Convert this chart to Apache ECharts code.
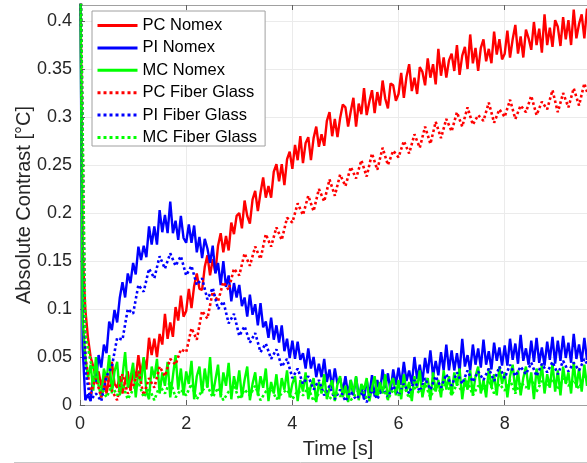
<!DOCTYPE html>
<html><head><meta charset="utf-8">
<script src="https://cdn.jsdelivr.net/npm/echarts@6/dist/echarts.min.js"></script>
<style>html,body{margin:0;padding:0;background:#fff}#c{width:587px;height:463px}</style>
</head><body><div id="c"></div>
<script>
const seriesNames = ['PC Nomex','PI Nomex','MC Nomex','PC Fiber Glass','PI Fiber Glass','MC Fiber Glass'];
const xTicks = [0,2,4,6,8];
const yTicks = [0,0.05,0.1,0.15,0.2,0.25,0.3,0.35,0.4];
const tFine = [
0,0.05,0.1,0.15,0.2,0.25,0.3,0.35,0.4,0.45,0.5,0.55,0.6,0.65,0.7,0.75,0.8,0.85,0.9,0.95,
1,1.05,1.1,1.15,1.2,1.25,1.3,1.35,1.4,1.45,1.5,1.55,1.6,1.65,1.7,1.75,1.8,1.85,1.9,1.95,
2,2.05,2.1,2.15,2.2,2.25,2.3,2.35,2.4,2.45,2.5,2.55,2.6,2.65,2.7,2.75,2.8,2.85,2.9,2.95,
3,3.05,3.1,3.15,3.2,3.25,3.3,3.35,3.4,3.45,3.5,3.55,3.6,3.65,3.7,3.75,3.8,3.85,3.9,3.95,
4,4.05,4.1,4.15,4.2,4.25,4.3,4.35,4.4,4.45,4.5,4.55,4.6,4.65,4.7,4.75,4.8,4.85,4.9,4.95,
5,5.05,5.1,5.15,5.2,5.25,5.3,5.35,5.4,5.45,5.5,5.55,5.6,5.65,5.7,5.75,5.8,5.85,5.9,5.95,
6,6.05,6.1,6.15,6.2,6.25,6.3,6.35,6.4,6.45,6.5,6.55,6.6,6.65,6.7,6.75,6.8,6.85,6.9,6.95,
7,7.05,7.1,7.15,7.2,7.25,7.3,7.35,7.4,7.45,7.5,7.55,7.6,7.65,7.7,7.75,7.8,7.85,7.9,7.95,
8,8.05,8.1,8.15,8.2,8.25,8.3,8.35,8.4,8.45,8.5,8.55,8.6,8.65,8.7,8.75,8.8,8.85,8.9,8.95,
9,9.05,9.1,9.15,9.2,9.25,9.3,9.35,9.4,9.45,9.5,9.55,9.6];
const tCoarse = [
0,0.1,0.2,0.3,0.4,0.5,0.6,0.7,0.8,0.9,
1,1.1,1.2,1.3,1.4,1.5,1.6,1.7,1.8,1.9,
2,2.1,2.2,2.3,2.4,2.5,2.6,2.7,2.8,2.9,
3,3.1,3.2,3.3,3.4,3.5,3.6,3.7,3.8,3.9,
4,4.1,4.2,4.3,4.4,4.5,4.6,4.7,4.8,4.9,
5,5.1,5.2,5.3,5.4,5.5,5.6,5.7,5.8,5.9,
6,6.1,6.2,6.3,6.4,6.5,6.6,6.7,6.8,6.9,
7,7.1,7.2,7.3,7.4,7.5,7.6,7.7,7.8,7.9,
8,8.1,8.2,8.3,8.4,8.5,8.6,8.7,8.8,8.9,
9,9.1,9.2,9.3,9.4,9.5,9.6];
const pcNomex = [
0.5,0.16,0.1,0.07,0.05,0.04,0.028,0.035,0.02,0.03,0.012,0.028,0.045,0.022,0.018,0.03,0.012,0.025,0.035,0.015,
0.038,0.028,0.052,0.031,0.049,0.037,0.07,0.052,0.069,0.05,0.074,0.063,0.095,0.069,0.086,0.071,0.102,0.088,0.114,0.092,
0.098,0.121,0.101,0.124,0.137,0.121,0.12,0.144,0.156,0.135,0.152,0.138,0.166,0.179,0.159,0.176,0.161,0.19,0.178,0.197,
0.2,0.184,0.213,0.197,0.189,0.214,0.223,0.202,0.221,0.237,0.216,0.228,0.216,0.243,0.251,0.233,0.251,0.229,0.256,0.264,
0.246,0.271,0.255,0.28,0.252,0.273,0.279,0.255,0.278,0.29,0.269,0.282,0.27,0.296,0.305,0.28,0.298,0.279,0.299,0.313,
0.31,0.29,0.306,0.32,0.29,0.314,0.303,0.33,0.302,0.316,0.328,0.304,0.326,0.312,0.338,0.319,0.309,0.335,0.333,0.317,
0.324,0.346,0.32,0.342,0.355,0.327,0.341,0.324,0.352,0.347,0.333,0.361,0.341,0.355,0.334,0.371,0.343,0.362,0.341,0.359,
0.366,0.348,0.375,0.344,0.364,0.373,0.35,0.386,0.356,0.372,0.348,0.372,0.381,0.358,0.371,0.356,0.389,0.365,0.381,0.36,
0.366,0.39,0.362,0.381,0.396,0.366,0.384,0.362,0.391,0.382,0.37,0.399,0.375,0.392,0.367,0.407,0.375,0.393,0.373,0.401,
0.394,0.374,0.404,0.381,0.401,0.375,0.412,0.382,0.397,0.407,0.382,0.413,0.388];
const piNomex = [
0.5,0.06,0.005,0.011,0.004,0.03,0.024,0.052,0.039,0.063,0.054,0.087,0.078,0.099,0.086,0.112,0.128,0.112,0.137,0.127,
0.148,0.136,0.165,0.151,0.166,0.154,0.186,0.167,0.186,0.167,0.203,0.18,0.198,0.179,0.212,0.179,0.192,0.172,0.197,0.174,
0.169,0.188,0.169,0.187,0.159,0.175,0.153,0.173,0.163,0.148,0.166,0.137,0.148,0.125,0.15,0.123,0.135,0.108,0.127,0.112,
0.125,0.103,0.112,0.092,0.115,0.094,0.105,0.083,0.106,0.081,0.087,0.07,0.091,0.068,0.083,0.065,0.083,0.056,0.069,0.049,
0.067,0.048,0.066,0.047,0.054,0.038,0.059,0.038,0.05,0.029,0.043,0.029,0.048,0.024,0.037,0.018,0.038,0.022,0.028,0.014,
0.03,0.011,0.026,0.01,0.029,0.01,0.019,0.006,0.026,0.01,0.031,0.009,0.026,0.013,0.037,0.018,0.033,0.014,0.037,0.021,
0.039,0.021,0.045,0.025,0.036,0.022,0.05,0.027,0.042,0.024,0.049,0.033,0.057,0.03,0.046,0.031,0.055,0.036,0.063,0.036,
0.057,0.036,0.054,0.035,0.069,0.04,0.052,0.036,0.063,0.042,0.059,0.039,0.068,0.042,0.056,0.037,0.065,0.046,0.06,0.041,
0.062,0.041,0.069,0.047,0.064,0.043,0.073,0.046,0.059,0.042,0.067,0.045,0.07,0.044,0.06,0.041,0.066,0.047,0.071,0.043,
0.067,0.046,0.072,0.049,0.065,0.044,0.074,0.048,0.063,0.045,0.07,0.047,0.066];
const mcNomex = [
0.5,0.09,0.05,0.028,0.042,0.015,0.05,0.02,0.008,0.038,0.026,0.052,0.012,0.035,0.045,0.01,0.03,0.055,0.018,0.028,
0.044,0.008,0.036,0.022,0.05,0.014,0.006,0.04,0.028,0.048,0.012,0.034,0.02,0.045,0.008,0.03,0.052,0.016,0.038,0.01,
0.035,0.022,0.046,0.006,0.03,0.04,0.012,0.038,0.018,0.05,0.01,0.026,0.042,0.008,0.034,0.02,0.044,0.006,0.03,0.016,
0.036,0.008,0.026,0.04,0.005,0.022,0.034,0.01,0.03,0.018,0.038,0.004,0.024,0.012,0.032,0.006,0.028,0.016,0.036,0.008,
0.022,0.03,0.004,0.026,0.014,0.034,0.006,0.02,0.028,0.003,0.024,0.012,0.032,0.006,0.018,0.026,0.004,0.022,0.03,0.008,
0.02,0.003,0.026,0.012,0.03,0.005,0.022,0.016,0.028,0.004,0.018,0.03,0.008,0.024,0.012,0.032,0.005,0.022,0.028,0.01,
0.026,0.006,0.032,0.014,0.024,0.004,0.03,0.018,0.036,0.008,0.022,0.028,0.005,0.034,0.014,0.026,0.008,0.036,0.016,0.03,
0.01,0.034,0.02,0.038,0.006,0.028,0.016,0.036,0.01,0.03,0.04,0.012,0.026,0.008,0.038,0.018,0.032,0.01,0.04,0.022,
0.034,0.008,0.03,0.042,0.014,0.036,0.01,0.028,0.04,0.016,0.034,0.006,0.038,0.022,0.042,0.012,0.032,0.018,0.044,0.014,
0.036,0.01,0.04,0.022,0.034,0.012,0.045,0.018,0.038,0.014,0.042,0.02,0.036];
const pcFiber = [
0.5,0.05,0.012,0.028,0.008,0.03,0.015,0.005,0.032,0.012,
0.02,0.035,0.01,0.028,0.018,0.04,0.03,0.048,0.042,0.058,
0.055,0.08,0.068,0.098,0.09,0.118,0.108,0.128,0.12,0.142,
0.135,0.158,0.145,0.165,0.152,0.178,0.165,0.185,0.172,0.195,
0.19,0.21,0.198,0.218,0.202,0.225,0.212,0.235,0.218,0.24,
0.228,0.248,0.236,0.255,0.238,0.262,0.245,0.268,0.25,0.265,
0.258,0.275,0.262,0.282,0.268,0.29,0.272,0.295,0.278,0.298,
0.285,0.305,0.29,0.31,0.292,0.302,0.296,0.315,0.294,0.308,
0.3,0.318,0.298,0.312,0.305,0.322,0.302,0.316,0.308,0.328,
0.305,0.325,0.31,0.33,0.312,0.335,0.318];
const piFiber = [
0.5,0.035,0.005,0.012,0.004,0.03,0.04,0.07,0.068,0.1,
0.095,0.125,0.118,0.142,0.132,0.155,0.142,0.158,0.145,0.155,
0.135,0.145,0.125,0.132,0.11,0.122,0.1,0.108,0.085,0.095,
0.072,0.082,0.065,0.075,0.055,0.064,0.048,0.058,0.04,0.048,
0.028,0.038,0.022,0.03,0.016,0.026,0.01,0.02,0.006,0.016,
0.004,0.014,0.006,0.012,0.003,0.016,0.006,0.018,0.008,0.02,
0.01,0.022,0.012,0.026,0.014,0.028,0.016,0.03,0.018,0.032,
0.02,0.034,0.022,0.036,0.024,0.035,0.026,0.038,0.025,0.04,
0.028,0.042,0.03,0.04,0.032,0.044,0.03,0.043,0.034,0.045,
0.032,0.046,0.035,0.044,0.036,0.048,0.038];
const mcFiber = [
0.5,0.075,0.045,0.03,0.018,0.008,0.02,0.01,0.022,0.006,
0.016,0.024,0.008,0.018,0.005,0.02,0.012,0.025,0.008,0.016,
0.01,0.022,0.006,0.015,0.02,0.008,0.018,0.005,0.014,0.02,
0.006,0.016,0.01,0.02,0.005,0.014,0.018,0.006,0.012,0.016,
0.006,0.015,0.01,0.018,0.004,0.012,0.016,0.006,0.014,0.009,
0.016,0.005,0.012,0.018,0.007,0.015,0.01,0.02,0.006,0.016,
0.01,0.02,0.007,0.018,0.012,0.022,0.008,0.02,0.013,0.024,
0.01,0.022,0.014,0.025,0.01,0.02,0.016,0.026,0.012,0.022,
0.015,0.026,0.012,0.024,0.018,0.028,0.014,0.025,0.019,0.027,
0.016,0.028,0.02,0.026,0.017,0.03,0.021];

const RED='#ff0000', BLUE='#0000ff', GREEN='#00ff00';
const FONT = 'Arial, "Liberation Sans", Helvetica, sans-serif';
function pairs(t, v){ return v.map((y,i)=>[t[i], y]); }
function mk(name, t, v, color, dotted){
  return {
    name, type:'line', data: pairs(t, v), showSymbol:false, symbol:'none',
    animation:false, clip:true, sampling:null,
    lineStyle:{ color, width: dotted?2.6:2.4, type: dotted?'dotted':'solid' },
    itemStyle:{ color }
  };
}
const chart = echarts.init(document.getElementById('c'), null, {renderer:'canvas'});
const axisColor = '#a0a0a0';
chart.setOption({
  backgroundColor:'#ffffff',
  animation:false,
  grid:{ left:80, right:0, top:5, bottom:58, containLabel:false },
  xAxis:[{
    type:'value', min:0, max:9.55, interval:2,
    axisLine:{ show:true, lineStyle:{ color:axisColor, width:1 } },
    axisTick:{ show:true, inside:true, length:5, lineStyle:{ color:'#606060' } },
    axisLabel:{ color:'#262626', fontSize:18, fontFamily:FONT, margin:10, showMaxLabel:false,
      formatter: v => xTicks.includes(v) ? String(v) : '' },
    splitLine:{ show:true, lineStyle:{ color:'#ebebeb', width:1 } }
  },{
    type:'value', position:'top', min:0, max:9.55, interval:2,
    axisLine:{ show:true, lineStyle:{ color:axisColor, width:1 } },
    axisTick:{ show:true, inside:true, length:5, lineStyle:{ color:'#606060' } },
    axisLabel:{ show:false }, splitLine:{ show:false }
  }],
  yAxis:{
    type:'value', min:0, max:0.4167, interval:0.05,
    axisLine:{ show:true, lineStyle:{ color:axisColor, width:1 } },
    axisTick:{ show:true, inside:true, length:5, lineStyle:{ color:'#606060' } },
    axisLabel:{ color:'#262626', fontSize:18, fontFamily:FONT, margin:8, showMaxLabel:false,
      formatter: v => { const r = +v.toFixed(2); return yTicks.includes(r) ? String(r) : ''; } },
    splitLine:{ show:true, lineStyle:{ color:'#ebebeb', width:1 } }
  },
  legend:{
    show:true, orient:'vertical', left:92, top:11,
    padding:[6,8,0,4], itemGap:5.4, itemWidth:40, itemHeight:14,
    backgroundColor:'#ffffff', borderColor:'#a0a0a0', borderWidth:1, borderRadius:0,
    textStyle:{ color:'#000000', fontSize:16.5, fontFamily:FONT, lineHeight:17 },
    lineStyle:{ width:3 },
    itemStyle:{ color:'rgba(0,0,0,0)', borderWidth:0, opacity:0 },
    data: seriesNames
  },
  graphic:[
    { type:'text', x:338, y:449, style:{ text:'Time [s]', font:'20px '+FONT, fill:'#262626', textAlign:'center', textVerticalAlign:'middle' } },
    { type:'text', rotation:Math.PI/2, x:24, y:205, style:{ text:'Absolute Contrast [°C]', font:'20px '+FONT, fill:'#262626', textAlign:'center', textVerticalAlign:'middle' } },
    { type:'line', shape:{ x1:14, y1:462.5, x2:587, y2:462.5 }, style:{ stroke:'#c8c8c8', lineWidth:1 } }
  ],
  series:[
    mk(seriesNames[0], tFine, pcNomex, RED, false),
    mk(seriesNames[1], tFine, piNomex, BLUE, false),
    mk(seriesNames[2], tFine, mcNomex, GREEN, false),
    mk(seriesNames[3], tCoarse, pcFiber, RED, true),
    mk(seriesNames[4], tCoarse, piFiber, BLUE, true),
    mk(seriesNames[5], tCoarse, mcFiber, GREEN, true)
  ]
});
</script></body></html>
